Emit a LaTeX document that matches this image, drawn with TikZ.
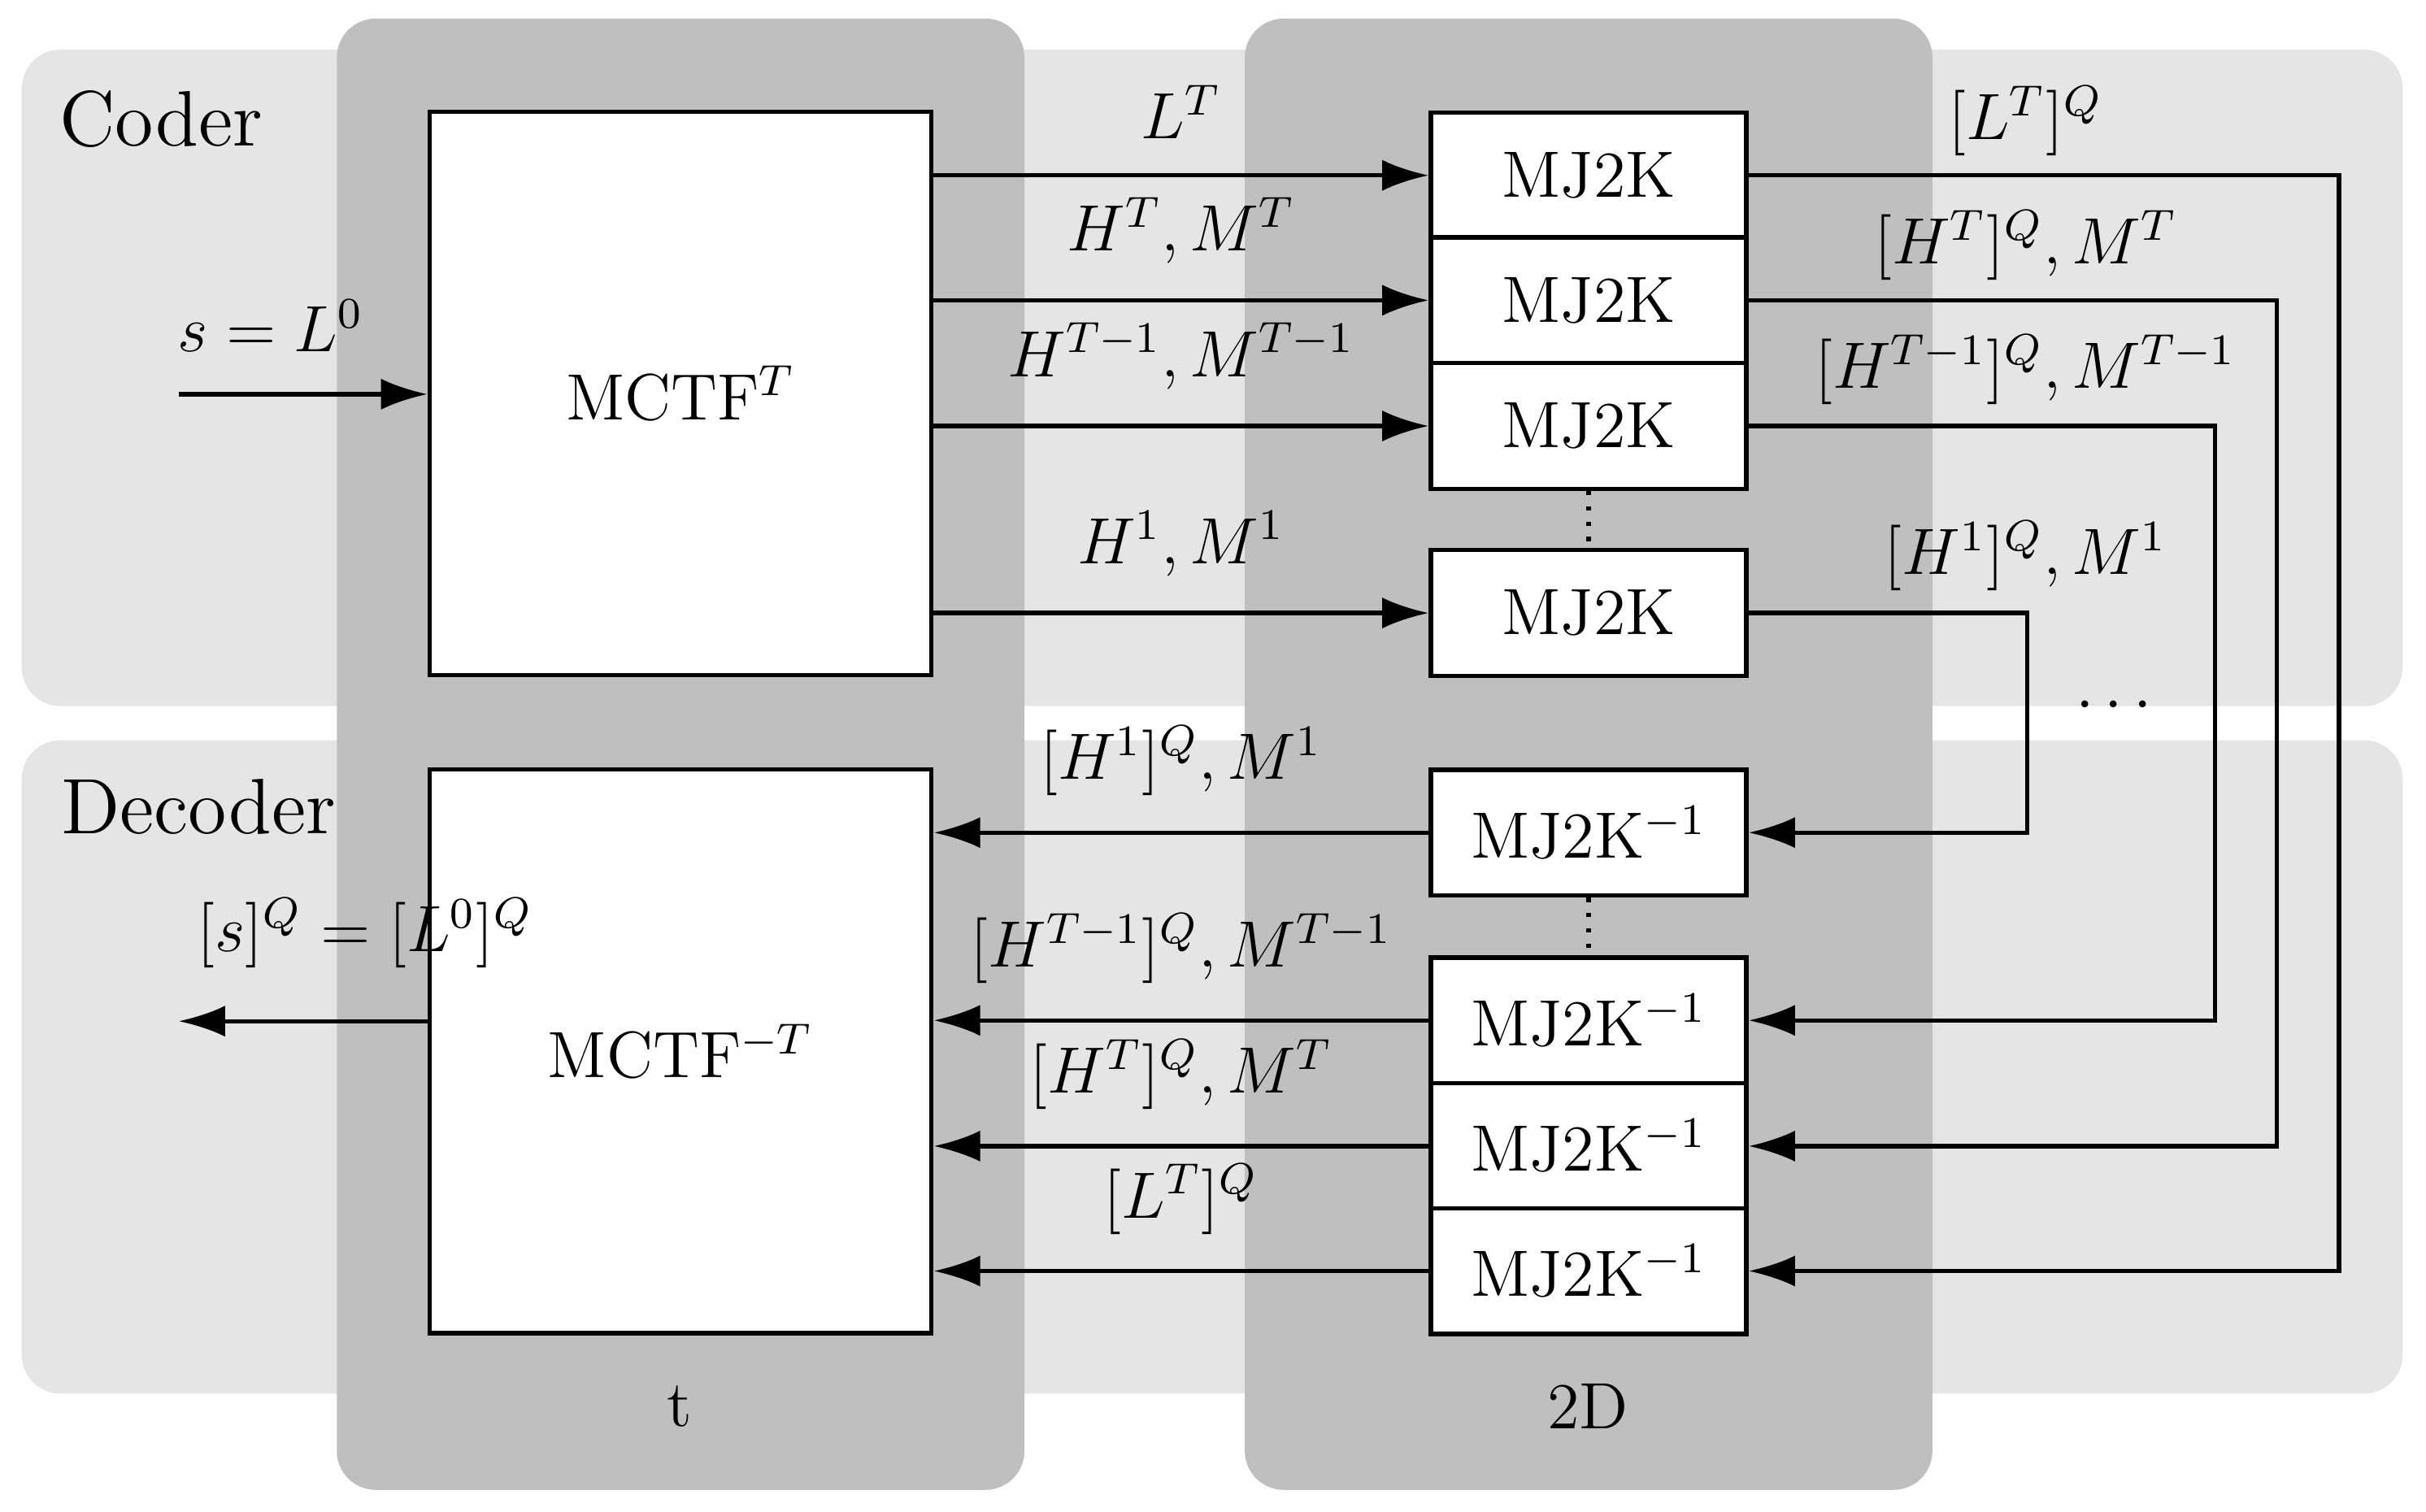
\documentclass[tikz,border=0pt]{standalone}
\usetikzlibrary{arrows.meta}
\begin{document}
\begin{tikzpicture}[x=0.01cm,y=-0.01cm,
  bg/.style={fill=black!10,rounded corners=0.25cm},
  col/.style={fill=black!25,rounded corners=0.25cm},
  box/.style={draw,fill=white,thick,minimum width=2.03cm,minimum height=0.81cm,inner sep=0pt},
  big/.style={draw,fill=white,thick,minimum width=3.23cm,minimum height=3.63cm,inner sep=0pt,font=\large},
  arr/.style={thick,-{Latex[length=3mm,width=2mm]}},
  lab/.style={font=\large},
  every node/.style={font=\large}]
\useasboundingbox (0,0) rectangle (1563,974);
\fill[bg] (14,32) rectangle (1548,455);
\fill[bg] (14,477) rectangle (1548,898);
\fill[col] (217,12) rectangle (660,960);
\fill[col] (802,12) rectangle (1245,960);
\node[font=\Large] (coder) at (104,77) {Coder};
\node[font=\Large] (decoder) at (128,520) {Decoder};
\node (tl) at (438,906) {t};
\node (dl) at (1023,906) {2D};
\node[big] (enc) at (438.5,253.5) {MCTF$^T$};
\node[big] (dec) at (438.5,677.5) {MCTF$^{-T}$};
\node[box] (c1) at (1023.5,113) {MJ2K};
\node[box] (c2) at (1023.5,193.5) {MJ2K};
\node[box] (c3) at (1023.5,274.5) {MJ2K};
\node[box] (c4) at (1023.5,395) {MJ2K};
\node[box] (d4) at (1023.5,536.5) {MJ2K$^{-1}$};
\node[box] (d3) at (1023.5,657.5) {MJ2K$^{-1}$};
\node[box] (d2) at (1023.5,738.5) {MJ2K$^{-1}$};
\node[box] (d1) at (1023.5,819) {MJ2K$^{-1}$};
\draw[thick,dotted] (c3.south) -- (c4.north);
\draw[thick,dotted] (d4.south) -- (d3.north);
\coordinate (in) at (115,254);
\coordinate (out) at (115,658);
\draw[arr] (in) -- (enc.west|-in) node[pos=0.37,above=4pt] {$s=L^0$};
\draw[arr] (dec.west|-out) -- (out) node[pos=0.25,above=6pt] {$[s]^Q=[L^0]^Q$};
\foreach \b/\l in {c1/{L^T},c2/{H^T,M^T},c3/{H^{T-1},M^{T-1}},c4/{H^1,M^1}}
  \draw[arr] (enc.east|-\b) -- (\b.west) node[midway,above=3pt] {$\l$};
\foreach \b/\l in {d4/{[H^1]^Q,M^1},d3/{[H^{T-1}]^Q,M^{T-1}},d2/{[H^T]^Q,M^T},d1/{[L^T]^Q}}
  \draw[arr] (\b.west) -- (dec.east|-\b) node[midway,above=3pt] {$\l$};
\foreach \a/\b/\x/\l in {c1/d1/1507/{[L^T]^Q},c2/d2/1467/{[H^T]^Q,M^T},c3/d3/1427/{[H^{T-1}]^Q,M^{T-1}},c4/d4/1306/{[H^1]^Q,M^1}}
  \draw[arr] (\a.east) -- (\x,0|-\a.east) |- (\b.east);
\node (l1) at (1305,78) {$[L^T]^Q$};
\node (l2) at (1305,158) {$[H^T]^Q,M^T$};
\node (l3) at (1305,238) {$[H^{T-1}]^Q,M^{T-1}$};
\node (l4) at (1305,358) {$[H^1]^Q,M^1$};
\node (dots) at (1362,455) {$\cdots$};
\end{tikzpicture}
\end{document}
